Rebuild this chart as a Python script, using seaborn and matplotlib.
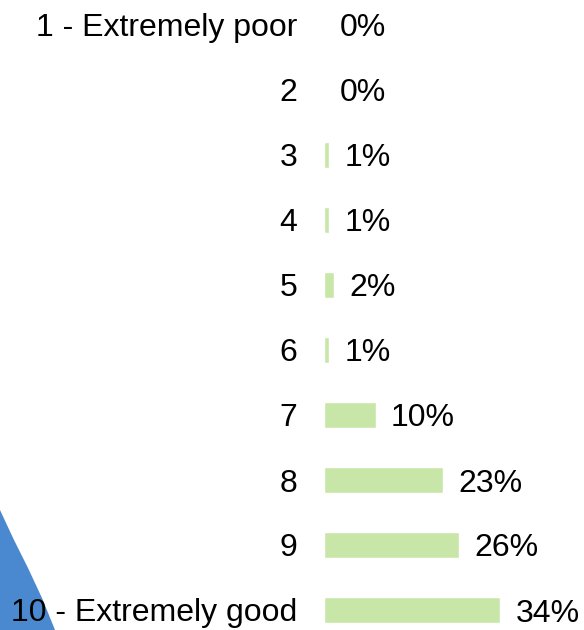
import matplotlib
matplotlib.use("Agg")
import matplotlib.pyplot as plt
import matplotlib.transforms as mtransforms
from matplotlib.patches import Polygon
import seaborn as sns
import pandas as pd

categories = ["1 - Extremely poor", "2", "3", "4", "5", "6", "7", "8", "9",
              "10 - Extremely good"]
percent = [0, 0, 1, 1, 2, 1, 10, 23, 26, 34]
value_labels = ["0%", "0%", "1%", "1%", "2%", "1%", "10%", "23%", "26%", "34%"]

sns.set_theme(style="white")
plt.rcParams["font.family"] = ["Liberation Sans", "DejaVu Sans"]

W, H = 584, 630
fig = plt.figure(figsize=(W / 100, H / 100), dpi=100)
fig.patch.set_facecolor("white")

# blue decorative corner in the lower left, kept behind the axes
corner = Polygon([(0, 1 - 510 / H), (14, 1 - 540 / H), (28, 1 - 568 / H),
                  (42, 1 - 598 / H), (55, 0), (0, 0)],
                 closed=True, facecolor="#4a89cf", edgecolor="none", zorder=-1)
corner.set_transform(mtransforms.blended_transform_factory(
    mtransforms.Affine2D().scale(1.0 / W) + fig.transFigure,
    fig.transFigure))
fig.patches.append(corner)

ax = fig.add_axes([324 / W, -12.5 / H, 1 - 324 / W, 650 / H])
ax.set_facecolor("none")

df = pd.DataFrame({"rating": categories, "pct": percent})
sns.barplot(data=df, y="rating", x="pct", orient="h", color="#c9e6a9",
            saturation=1, width=0.4, ax=ax)

ax.set_xlim(0, 260 / 5.18)
ax.set_ylim(9.5, -0.5)
for i, (v, lab) in enumerate(zip(percent, value_labels)):
    ax.annotate(lab, (v, i), xytext=(11, 0), textcoords="offset points",
                va="center_baseline", ha="left", fontsize=23, color="#000000")

ax.set_xlabel("")
ax.set_ylabel("")
ax.set_xticks([])
ax.tick_params(axis="y", length=0, pad=19, labelsize=23, labelcolor="#000000")
for lbl in ax.get_yticklabels():
    lbl.set_verticalalignment("center_baseline")
for s in ax.spines.values():
    s.set_visible(False)

fig.savefig("out.png", dpi=100)
